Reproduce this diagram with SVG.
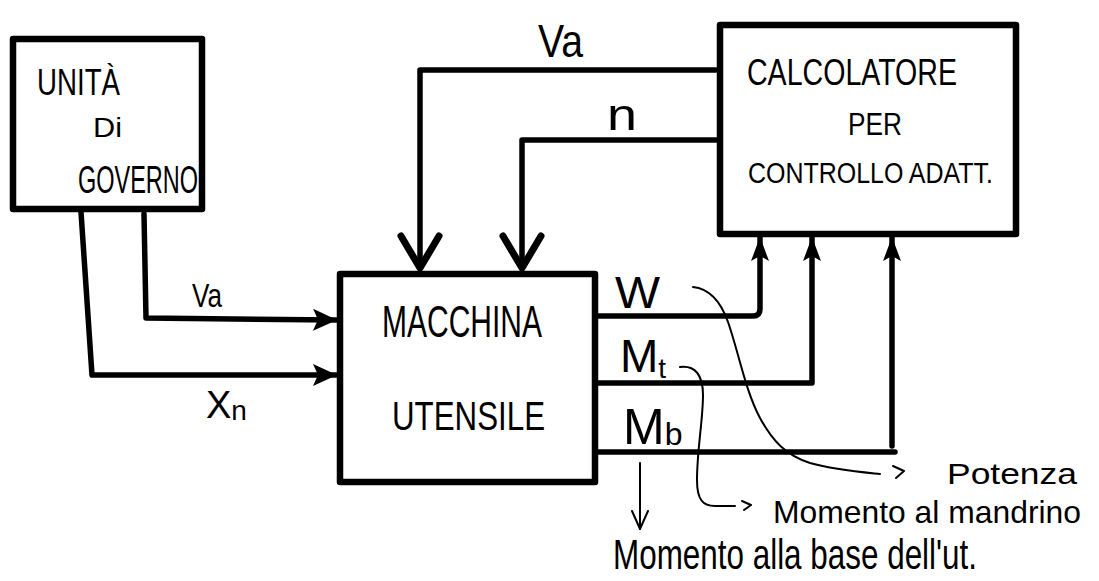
<svg xmlns="http://www.w3.org/2000/svg" width="1099" height="581" viewBox="0 0 1099 581">
<style>
.box{fill:#fff;stroke:#000;stroke-width:6.5;stroke-linejoin:round}
.wire{fill:none;stroke:#000;stroke-width:5.5;stroke-linejoin:round;stroke-linecap:round}
.thin{fill:none;stroke:#000;stroke-width:2;stroke-linecap:round;stroke-linejoin:round}
text{font-family:"Liberation Sans",Arial,sans-serif;fill:#000}
</style>
<defs>
<marker id="ah" viewBox="0 0 24 22" refX="23" refY="11" markerWidth="24" markerHeight="22" markerUnits="userSpaceOnUse" orient="auto"><path d="M0,0 L24,11 L0,22 L5,11 Z" fill="#000"/></marker>
<marker id="ahu" viewBox="0 0 24 18" refX="23" refY="9" markerWidth="24" markerHeight="18" markerUnits="userSpaceOnUse" orient="auto"><path d="M0,0 L24,9 L0,18 L5,9 Z" fill="#000"/></marker>
<marker id="chev" viewBox="-4 -4 44 50" refX="34" refY="21" markerWidth="44" markerHeight="50" markerUnits="userSpaceOnUse" orient="auto"><path d="M2,2 L34,21 L2,40" fill="none" stroke="#000" stroke-width="7" stroke-linejoin="round" stroke-linecap="round"/></marker>
<marker id="thinv" viewBox="0 0 20 18" refX="19" refY="9" markerWidth="20" markerHeight="18" markerUnits="userSpaceOnUse" orient="auto"><path d="M1,1 L19,9 L1,17" fill="none" stroke="#000" stroke-width="2" stroke-linecap="round"/></marker>
</defs>
<rect width="1099" height="581" fill="#fff"/>

<g id="connectors">
  <path class="wire" d="M81,212 L92,375 L336,375" marker-end="url(#ah)"/>
  <path class="wire" d="M144,214 L146,318 L336,320" marker-end="url(#ah)"/>
  <path class="wire" d="M716,70 L420,70 L420,268" marker-end="url(#chev)"/>
  <path class="wire" d="M716,140 L522,140 L522,268" marker-end="url(#chev)"/>
  <path class="wire" d="M597,316 L753,316 Q760,316 760,309 L760,238" marker-end="url(#ahu)"/>
  <path class="wire" d="M597,383 L812,383 L812,238" marker-end="url(#ahu)"/>
  <path class="wire" d="M597,452 L895,452"/>
  <path class="wire" d="M892,446 L892,238" marker-end="url(#ahu)"/>
  <path class="thin" d="M640,463 L640,529" marker-end="url(#thinv)"/>
  <path class="thin" d="M693,287 C712,289 722,305 728,322 C738,350 745,390 760,418 C772,440 785,455 810,463 C835,470 860,472 880,474"/>
  <path class="thin" d="M893,466 L904,471 L896,478"/>
  <path class="thin" d="M680,367 C695,365 703,375 703,395 C703,420 697,450 697,480 C697,500 703,506 715,506 L735,506"/>
  <path class="thin" d="M742,501 L751,505 L744,510"/>
</g>

<g id="unita">
  <rect class="box" x="13" y="39" width="189" height="170"/>
  <text x="37" y="95" font-size="36" textLength="83" lengthAdjust="spacingAndGlyphs">UNITÀ</text>
  <text x="93" y="137" font-size="28" textLength="29" lengthAdjust="spacingAndGlyphs">Di</text>
  <text x="78" y="193" font-size="38" textLength="120" lengthAdjust="spacingAndGlyphs">GOVERNO</text>
</g>

<g id="macchina">
  <rect class="box" x="340" y="274" width="255" height="208"/>
  <text x="382" y="337" font-size="44" textLength="160" lengthAdjust="spacingAndGlyphs">MACCHINA</text>
  <text x="392" y="430" font-size="40" textLength="153" lengthAdjust="spacingAndGlyphs">UTENSILE</text>
</g>

<g id="calcolatore">
  <rect class="box" x="720" y="25" width="296" height="209"/>
  <text x="747" y="85" font-size="36" textLength="210" lengthAdjust="spacingAndGlyphs">CALCOLATORE</text>
  <text x="848" y="135" font-size="32" textLength="54" lengthAdjust="spacingAndGlyphs">PER</text>
  <text x="748" y="183" font-size="30" textLength="245" lengthAdjust="spacingAndGlyphs">CONTROLLO ADATT.</text>
</g>

<g id="labels">
  <text x="192" y="307" font-size="34" textLength="30" lengthAdjust="spacingAndGlyphs">Va</text>
  <text x="206" y="418" font-size="38">X<tspan font-size="28" dy="2">n</tspan></text>
  <text x="538" y="57" font-size="46" textLength="45" lengthAdjust="spacingAndGlyphs">Va</text>
  <text x="607" y="130" font-size="44" textLength="30" lengthAdjust="spacingAndGlyphs">n</text>
  <text x="615" y="308" font-size="44" textLength="45" lengthAdjust="spacingAndGlyphs">W</text>
  <text x="620" y="372" font-size="46">M<tspan font-size="28" dy="6">t</tspan></text>
  <text x="623" y="444" font-size="50">M<tspan font-size="32" dy="1">b</tspan></text>
  <text x="947" y="484" font-size="30" textLength="130" lengthAdjust="spacingAndGlyphs">Potenza</text>
  <text x="773" y="523" font-size="32" textLength="308" lengthAdjust="spacingAndGlyphs">Momento al mandrino</text>
  <text x="613" y="569" font-size="42" textLength="364" lengthAdjust="spacingAndGlyphs">Momento alla base dell'ut.</text>
</g>
</svg>
